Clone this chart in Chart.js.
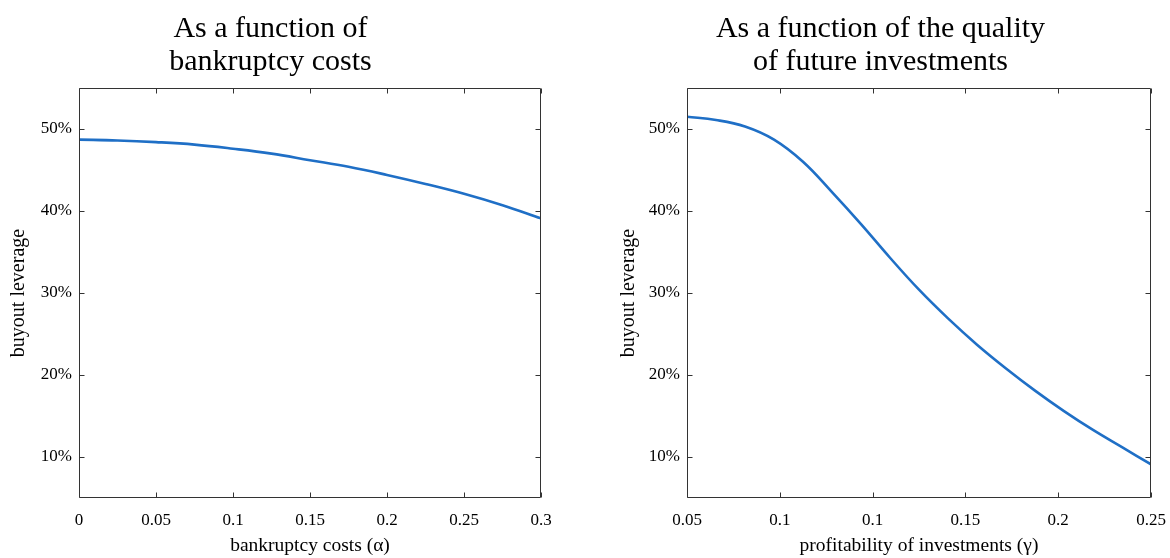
<!DOCTYPE html>
<html>
<head>
<meta charset="utf-8">
<script src="https://cdn.jsdelivr.net/npm/chart.js@4.4.1/dist/chart.umd.min.js"></script>
<style>
  html, body { margin: 0; padding: 0; background: #ffffff; }
  #wrap { position: relative; width: 1170px; height: 558px; }
  .panel { position: absolute; top: 0; width: 585px; height: 558px; }
  #panelLeft { left: 0; }
  #panelRight { left: 585px; }
</style>
</head>
<body>
<div id="wrap">
  <div class="panel" id="panelLeft"><canvas id="chartLeft" width="585" height="558"></canvas></div>
  <div class="panel" id="panelRight"><canvas id="chartRight" width="585" height="558"></canvas></div>
</div>
<script>
// leverage vs bankruptcy costs (alpha)
var alphaValues = [0, 0.025, 0.05, 0.075, 0.1, 0.125, 0.15, 0.175, 0.2, 0.225, 0.25, 0.275, 0.3];
var leverageByAlpha = [48.7, 48.6, 48.4, 48.1, 47.6, 47.0, 46.2, 45.4, 44.4, 43.3, 42.1, 40.7, 39.1];

// leverage vs profitability of investments (gamma)
var gammaValues = [0.05, 0.0625, 0.075, 0.0875, 0.1, 0.1125, 0.125, 0.1375, 0.15, 0.1625, 0.175, 0.1875, 0.2, 0.2125, 0.225, 0.2375, 0.25];
var leverageByGamma = [51.5, 51.1, 50.3, 48.7, 46.0, 42.3, 38.4, 34.3, 30.4, 26.9, 23.7, 20.8, 18.1, 15.6, 13.3, 11.2, 9.1];

var alphaTicks = [0, 0.05, 0.1, 0.15, 0.2, 0.25, 0.3];
var alphaTickLabels = ["0", "0.05", "0.1", "0.15", "0.2", "0.25", "0.3"];
var gammaTicks = [0.05, 0.09, 0.13, 0.17, 0.21, 0.25];
var gammaTickLabels = ["0.05", "0.1", "0.1", "0.15", "0.2", "0.25"];
var leverageTicks = [10, 20, 30, 40, 50];
var leverageTickLabels = ["10%", "20%", "30%", "40%", "50%"];

var serif = "'Liberation Serif', 'DejaVu Serif', serif";
var lineColor = "#1f6fc6";
var axisColor = "#333333";

// box around the plot with inward tick marks on all four sides
var framePlugin = {
    id: "frame",
    afterDraw: function (chart) {
        var ctx = chart.ctx;
        var a = chart.chartArea;
        var xs = chart.scales.x;
        var ys = chart.scales.y;
        var len = 5;
        var l = Math.round(a.left) + 0.5, r = Math.round(a.right) - 0.5;
        var t = Math.round(a.top) + 0.5, b = Math.round(a.bottom) - 0.5;
        ctx.save();
        ctx.strokeStyle = axisColor;
        ctx.lineWidth = 1;
        ctx.beginPath();
        ctx.rect(l, t, r - l, b - t);
        xs.ticks.forEach(function (tk) {
            var px = Math.round(xs.getPixelForValue(tk.value)) + 0.5;
            ctx.moveTo(px, b); ctx.lineTo(px, b - len);
            ctx.moveTo(px, t); ctx.lineTo(px, t + len);
        });
        ys.ticks.forEach(function (tk) {
            var py = Math.round(ys.getPixelForValue(tk.value)) + 0.5;
            ctx.moveTo(l, py); ctx.lineTo(l + len, py);
            ctx.moveTo(r, py); ctx.lineTo(r - len, py);
        });
        ctx.stroke();
        ctx.restore();
    }
};

function makeChart(id, title, xs, ys, xLabel, xMin, xMax, xTicks, xTickLabels, padLeft, yWidth, padRight) {
    var points = xs.map(function (v, i) { return { x: v, y: ys[i] }; });
    return new Chart(document.getElementById(id).getContext("2d"), {
        type: "line",
        data: {
            datasets: [{
                data: points,
                borderColor: lineColor,
                borderWidth: 2.6,
                pointRadius: 0,
                tension: 0.4,
                fill: false
            }]
        },
        options: {
            responsive: false,
            animation: false,
            layout: { padding: { left: padLeft, right: padRight, top: 0, bottom: 0 } },
            plugins: {
                legend: { display: false },
                tooltip: { enabled: false },
                title: {
                    display: true,
                    text: title,
                    color: "#000000",
                    font: { family: serif, size: 30, weight: "normal", lineHeight: 1.1 },
                    padding: { top: 12.5, bottom: 9.5 }
                }
            },
            scales: {
                x: {
                    type: "linear",
                    min: xMin,
                    max: xMax,
                    grid: { display: false, drawTicks: false },
                    border: { display: false },
                    afterBuildTicks: function (scale) {
                        scale.ticks = xTicks.map(function (v) { return { value: v }; });
                    },
                    afterFit: function (scale) {
                        scale.height = 60;
                        scale.paddingLeft = 0;
                        scale.paddingRight = 0;
                    },
                    ticks: {
                        color: "#000000",
                        font: { family: serif, size: 17 },
                        padding: 12,
                        maxRotation: 0,
                        autoSkip: false,
                        callback: function (value, index) { return xTickLabels[index]; }
                    },
                    title: {
                        display: true,
                        text: xLabel,
                        color: "#000000",
                        font: { family: serif, size: 19.5 },
                        padding: { top: 0, bottom: 0 }
                    }
                },
                y: {
                    type: "linear",
                    min: 5,
                    max: 55,
                    grid: { display: false, drawTicks: false },
                    border: { display: false },
                    afterBuildTicks: function (scale) {
                        scale.ticks = leverageTicks.map(function (v) { return { value: v }; });
                    },
                    afterFit: function (scale) { scale.width = yWidth; },
                    ticks: {
                        color: "#000000",
                        font: { family: serif, size: 17 },
                        padding: 7,
                        autoSkip: false,
                        callback: function (value, index) { return leverageTickLabels[index]; }
                    },
                    title: {
                        display: true,
                        text: "buyout leverage",
                        color: "#000000",
                        font: { family: serif, size: 20 },
                        padding: { top: 7, bottom: 0 }
                    }
                }
            }
        },
        plugins: [framePlugin]
    });
}

makeChart("chartLeft", ["As a function of", "bankruptcy costs"], alphaValues, leverageByAlpha,
    "bankruptcy costs (α)", 0, 0.3, alphaTicks, alphaTickLabels, 0, 79, 44);
makeChart("chartRight", ["As a function of the quality", "of future investments"], gammaValues, leverageByGamma,
    "profitability of investments (γ)", 0.05, 0.25, gammaTicks, gammaTickLabels, 25, 77, 19);
</script>
</body>
</html>
